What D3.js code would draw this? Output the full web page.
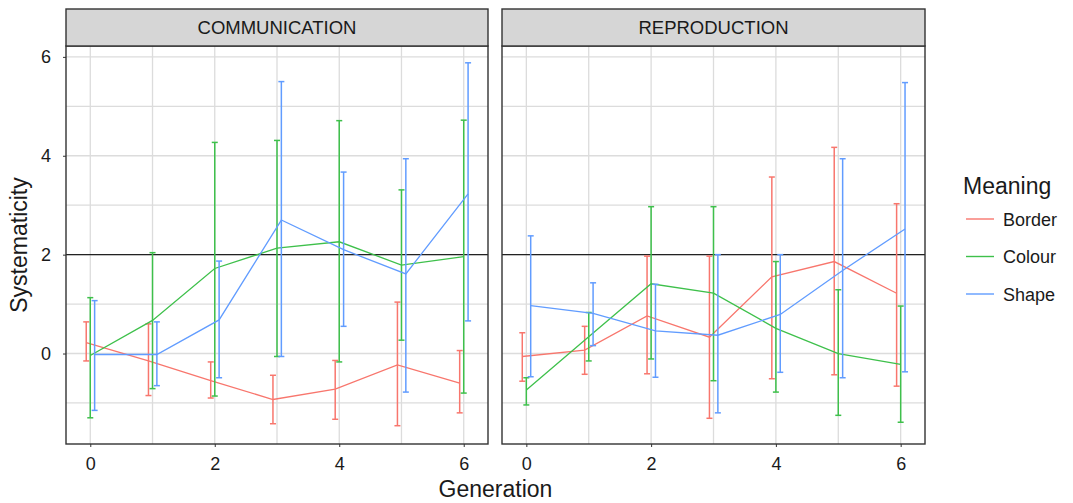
<!DOCTYPE html>
<html>
<head>
<meta charset="utf-8">
<style>
  body { margin: 0; background: #fff; font-family: "Liberation Sans", Arial, sans-serif; }
  svg text { fill: #1a1a1a; }
</style>
</head>
<body>
<div id="vis"></div>
<script src="https://d3js.org/d3.v7.min.js"></script>
<script>
// data
var generations = [0, 1, 2, 3, 4, 5, 6];
var conditions = ["COMMUNICATION", "REPRODUCTION"];
var meanings = ["Border", "Colour", "Shape"];
var xTicks = [0, 2, 4, 6];
var yTicks = [0, 2, 4, 6];

var commBorderMean = [0.22, -0.15, -0.55, -0.93, -0.72, -0.23, -0.60];
var commBorderLow  = [-0.15, -0.85, -0.90, -1.42, -1.33, -1.46, -1.20];
var commBorderHigh = [0.64, 0.60, -0.17, -0.44, -0.14, 1.04, 0.06];

var commColourMean = [-0.04, 0.67, 1.72, 2.13, 2.26, 1.79, 1.96];
var commColourLow  = [-1.30, -0.71, -0.86, -0.06, -0.17, 0.27, -0.80];
var commColourHigh = [1.13, 2.04, 4.27, 4.31, 4.71, 3.31, 4.72];

var commShapeMean = [-0.02, -0.02, 0.68, 2.70, 2.10, 1.61, 3.23];
var commShapeLow  = [-1.15, -0.65, -0.49, -0.06, 0.55, -0.78, 0.66];
var commShapeHigh = [1.07, 0.64, 1.87, 5.50, 3.67, 3.94, 5.88];

var reprBorderMean = [-0.06, 0.07, 0.76, 0.33, 1.55, 1.86, 1.22];
var reprBorderLow  = [-0.56, -0.42, -0.41, -1.31, -0.51, -0.43, -0.66];
var reprBorderHigh = [0.42, 0.55, 1.97, 1.97, 3.57, 4.17, 3.03];

var reprColourMean = [-0.74, 0.34, 1.41, 1.22, 0.51, 0.00, -0.22];
var reprColourLow  = [-1.04, -0.15, -0.11, -0.55, -0.78, -1.25, -1.39];
var reprColourHigh = [-0.49, 0.83, 2.97, 2.97, 1.86, 1.29, 0.96];

var reprShapeMean = [0.97, 0.81, 0.46, 0.37, 0.79, 1.68, 2.52];
var reprShapeLow  = [-0.47, 0.16, -0.48, -1.20, -0.38, -0.49, -0.37];
var reprShapeHigh = [2.38, 1.43, 1.40, 2.00, 2.00, 3.94, 5.48];

var threshold = 2;

var series = {
  COMMUNICATION: {
    Border: [commBorderMean, commBorderLow, commBorderHigh],
    Colour: [commColourMean, commColourLow, commColourHigh],
    Shape:  [commShapeMean, commShapeLow, commShapeHigh]
  },
  REPRODUCTION: {
    Border: [reprBorderMean, reprBorderLow, reprBorderHigh],
    Colour: [reprColourMean, reprColourLow, reprColourHigh],
    Shape:  [reprShapeMean, reprShapeLow, reprShapeHigh]
  }
};

var color = d3.scaleOrdinal().domain(meanings).range(["#F8766D", "#3EC04B", "#619CFF"]);
var dodge = d3.scaleOrdinal().domain(meanings).range([-0.065, 0, 0.07]);

var W = 1073, H = 503;
var panels = [[66, 488], [502, 925]];
var panelTop = 46, panelBottom = 444, stripTop = 9;

var svg = d3.select("#vis").append("svg")
  .attr("width", W).attr("height", H);

var y = d3.scaleLinear().domain([-1.83, 6.22]).range([panelBottom, panelTop]);

conditions.forEach(function(cond, i) {
  var x = d3.scaleLinear().domain([-0.39, 6.39]).range(panels[i]);
  var g = svg.append("g");
  var x0 = panels[i][0], x1 = panels[i][1];

  // grid
  var minorY = d3.range(-1, 7, 2);
  g.selectAll(".gy").data(minorY.concat(yTicks)).enter().append("line")
    .attr("x1", x0).attr("x2", x1)
    .attr("y1", function(d) { return y(d); }).attr("y2", function(d) { return y(d); })
    .attr("stroke", "#dcdcdc").attr("stroke-width", 1.3);
  g.selectAll(".gx").data(generations).enter().append("line")
    .attr("y1", panelTop).attr("y2", panelBottom)
    .attr("x1", function(d) { return x(d); }).attr("x2", function(d) { return x(d); })
    .attr("stroke", "#dcdcdc").attr("stroke-width", 1.3);

  // reference line
  g.append("line")
    .attr("x1", x0).attr("x2", x1)
    .attr("y1", y(threshold)).attr("y2", y(threshold))
    .attr("stroke", "#222").attr("stroke-width", 1.4);

  meanings.forEach(function(m) {
    var s = series[cond][m];
    var pts = generations.map(function(gen, k) {
      return { x: gen + dodge(m), mean: s[0][k], lo: s[1][k], hi: s[2][k] };
    });
    var line = d3.line().x(function(d) { return x(d.x); }).y(function(d) { return y(d.mean); });
    g.append("path").datum(pts)
      .attr("d", line).attr("fill", "none")
      .attr("stroke", color(m)).attr("stroke-width", 1.3);

    var eb = g.selectAll(".eb-" + m).data(pts).enter().append("g");
    eb.append("line")
      .attr("x1", function(d) { return x(d.x); }).attr("x2", function(d) { return x(d.x); })
      .attr("y1", function(d) { return y(d.lo); }).attr("y2", function(d) { return y(d.hi); })
      .attr("stroke", color(m)).attr("stroke-width", 1.5);
    ["lo", "hi"].forEach(function(k) {
      eb.append("line")
        .attr("x1", function(d) { return x(d.x) - 3; }).attr("x2", function(d) { return x(d.x) + 3; })
        .attr("y1", function(d) { return y(d[k]); }).attr("y2", function(d) { return y(d[k]); })
        .attr("stroke", color(m)).attr("stroke-width", 1.5);
    });
  });

  // panel border
  g.append("rect")
    .attr("x", x0).attr("y", panelTop).attr("width", x1 - x0).attr("height", panelBottom - panelTop)
    .attr("fill", "none").attr("stroke", "#333").attr("stroke-width", 1.4);

  // strip
  g.append("rect")
    .attr("x", x0).attr("y", stripTop).attr("width", x1 - x0).attr("height", panelTop - stripTop)
    .attr("fill", "#d6d6d6").attr("stroke", "#333").attr("stroke-width", 1.4);
  g.append("text")
    .attr("x", (x0 + x1) / 2).attr("y", (stripTop + panelTop) / 2 + 6.5)
    .attr("text-anchor", "middle").style("font-size", "18.5px")
    .text(cond);

  // x axis
  var xa = g.append("g").attr("transform", "translate(0," + panelBottom + ")")
    .call(d3.axisBottom(x).tickValues(xTicks).tickFormat(d3.format("d")).tickSize(3).tickPadding(10));
  xa.select(".domain").remove();
  xa.selectAll("line").attr("stroke", "#333");
  xa.selectAll("text").style("font-size", "18px").attr("fill", "#1a1a1a")
    .attr("font-family", "Liberation Sans, Arial, sans-serif");

  if (i === 0) {
    var ya = g.append("g").attr("transform", "translate(" + x0 + ",0)")
      .call(d3.axisLeft(y).tickValues(yTicks).tickFormat(d3.format("d")).tickSize(3).tickPadding(12));
    ya.select(".domain").remove();
    ya.selectAll("line").attr("stroke", "#333");
    ya.selectAll("text").style("font-size", "18px").attr("fill", "#1a1a1a")
      .attr("font-family", "Liberation Sans, Arial, sans-serif");
  }
});

// axis titles
svg.append("text")
  .attr("x", (panels[0][0] + panels[1][1]) / 2).attr("y", 497)
  .attr("text-anchor", "middle").style("font-size", "23px")
  .text("Generation");
svg.append("text")
  .attr("transform", "translate(27," + (panelTop + panelBottom) / 2 + ") rotate(-90)")
  .attr("text-anchor", "middle").style("font-size", "23px")
  .text("Systematicity");

// legend
var lg = svg.append("g").attr("transform", "translate(963,0)");
lg.append("text").attr("x", 0).attr("y", 194).style("font-size", "23px").text("Meaning");
meanings.forEach(function(m, k) {
  var yy = 219 + k * 37.5;
  lg.append("line").attr("x1", 3).attr("x2", 31).attr("y1", yy).attr("y2", yy)
    .attr("stroke", color(m)).attr("stroke-width", 1.4);
  lg.append("text").attr("x", 40).attr("y", yy + 6.5).style("font-size", "18px").text(m);
});
</script>
</body>
</html>
